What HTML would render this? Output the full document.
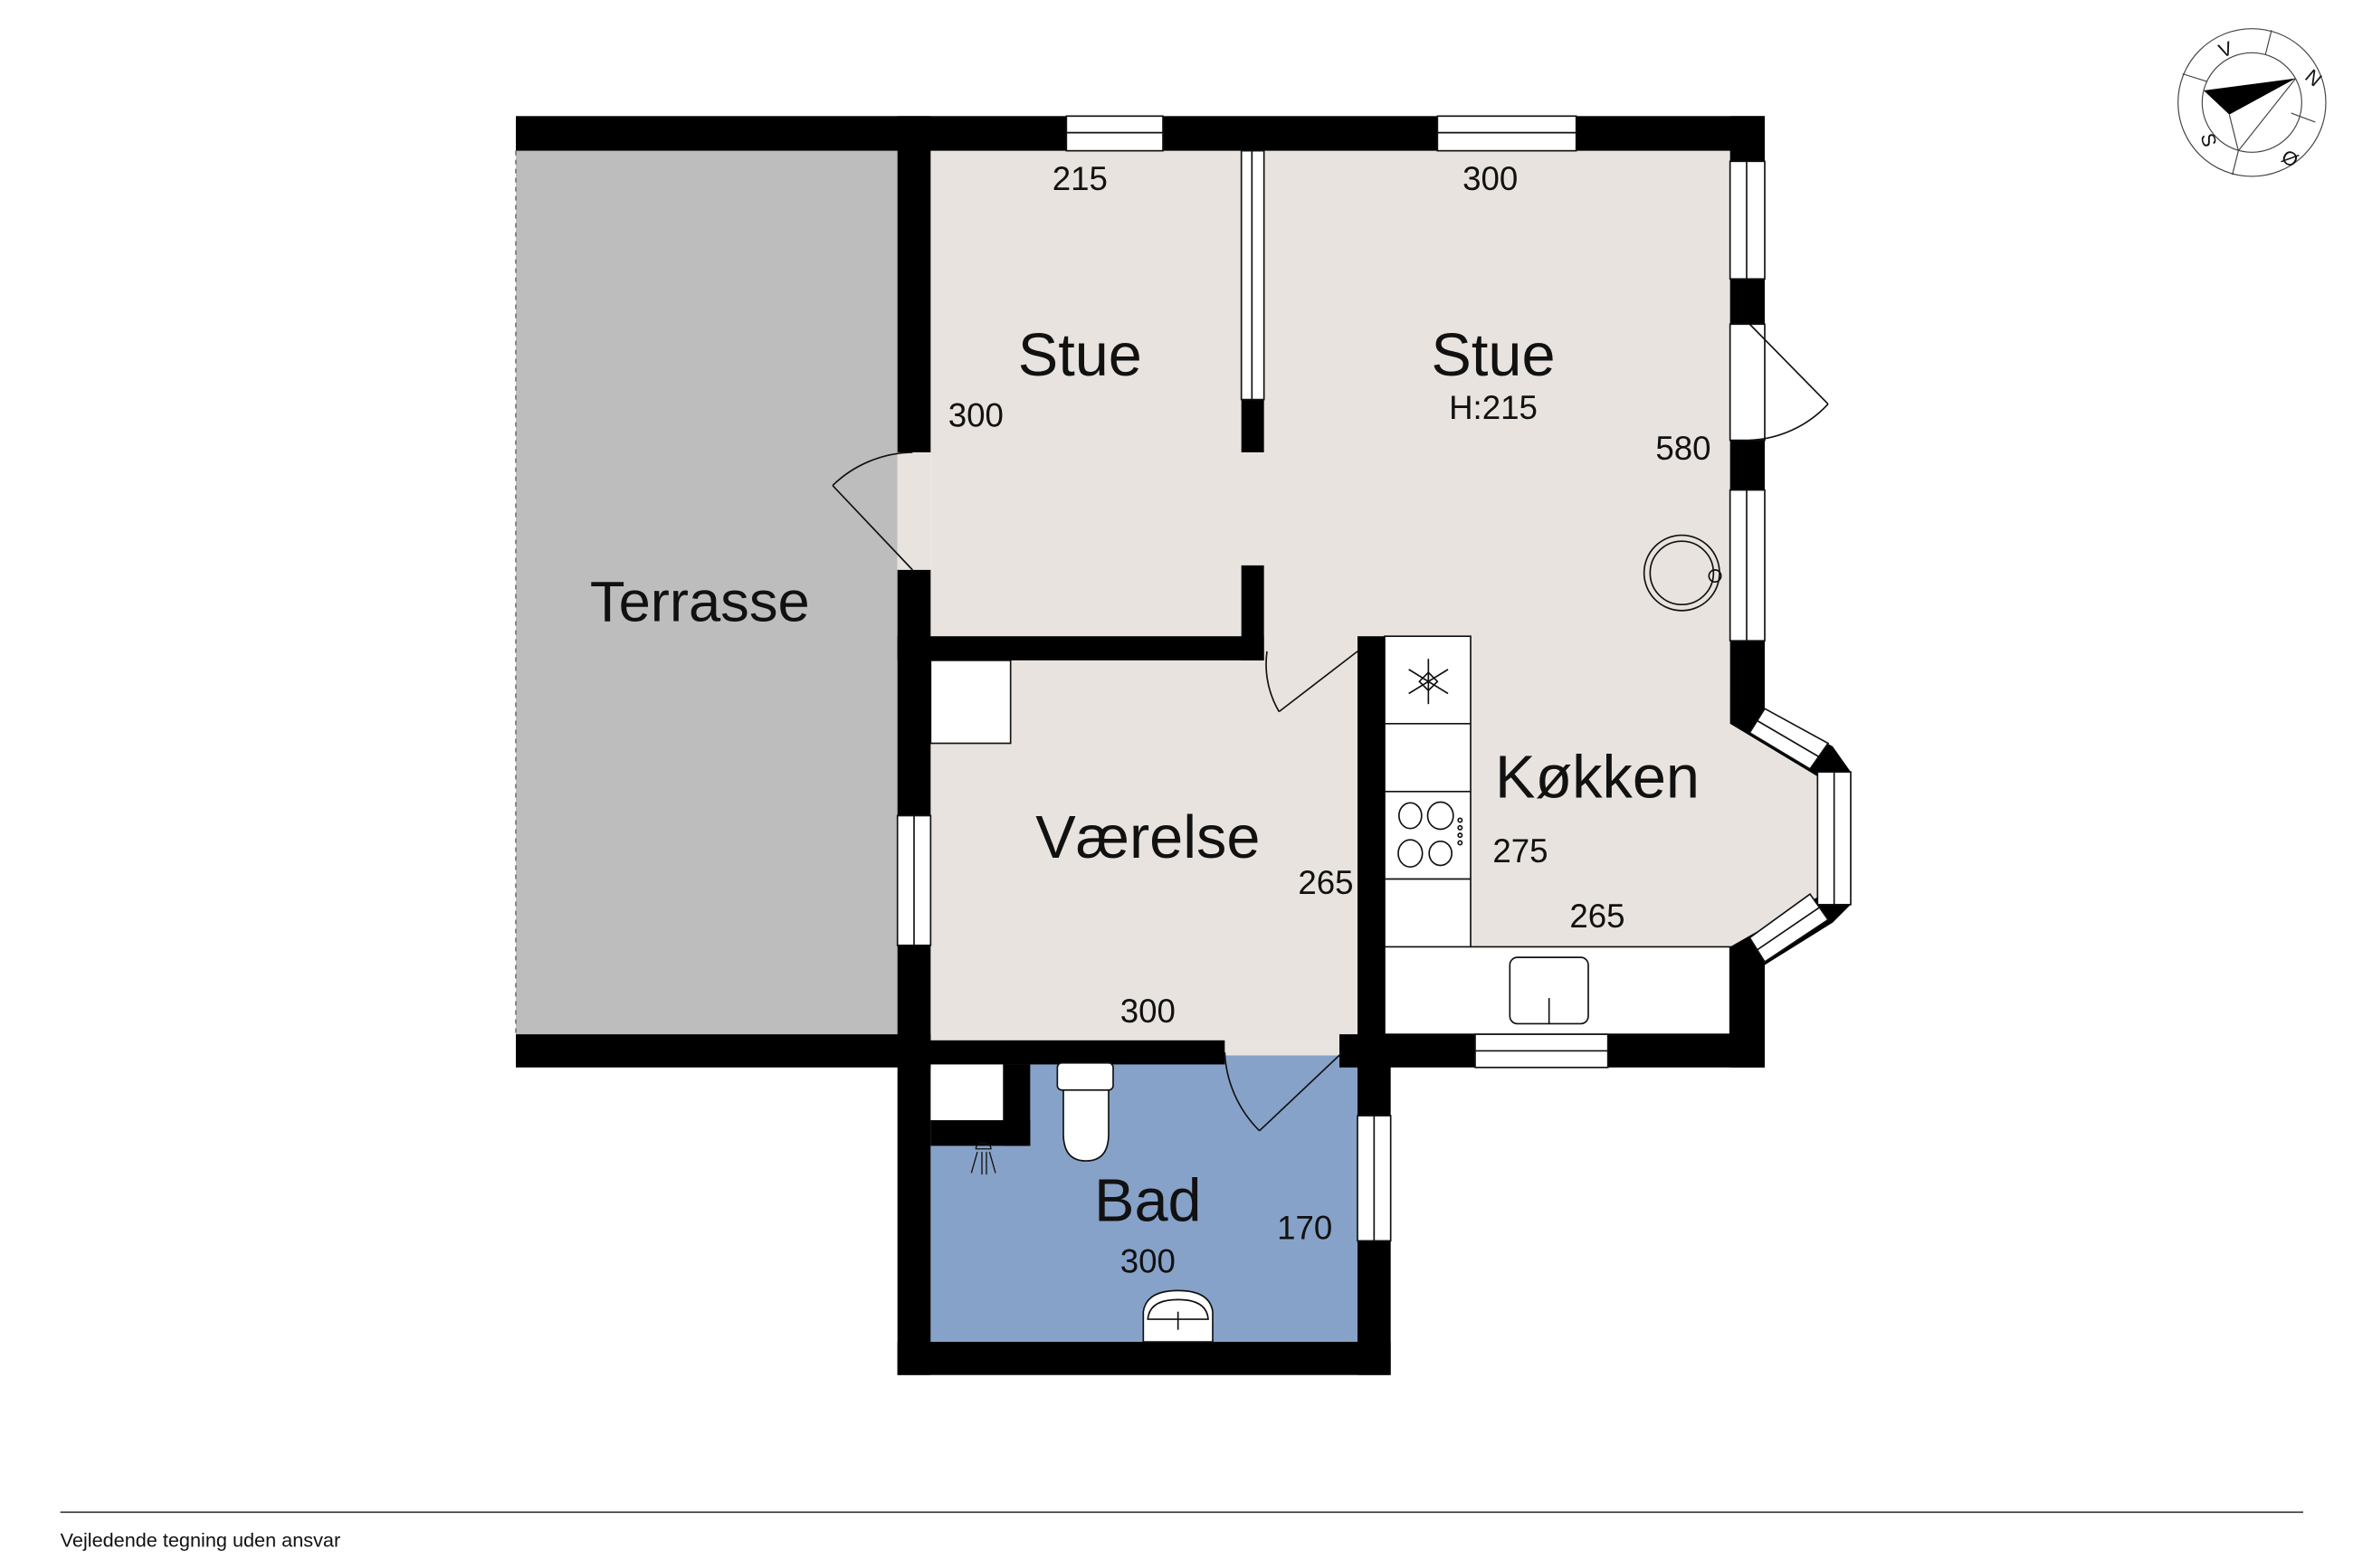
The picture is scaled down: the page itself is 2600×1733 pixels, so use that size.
<!DOCTYPE html>
<html><head><meta charset="utf-8"><style>
html,body{margin:0;padding:0;background:#fff;}
svg{display:block;}
text{font-family:"Liberation Sans",sans-serif;fill:#111;}
</style></head><body>
<svg width="2600" height="1733" viewBox="0 0 1560 1040" preserveAspectRatio="none" xmlns="http://www.w3.org/2000/svg">
<rect width="1560" height="1040" fill="#fff"/>
<!-- floors -->
<rect x="342" y="100" width="253" height="586" fill="#bdbdbd"/>
<line x1="342" y1="100" x2="342" y2="686" stroke="#777" stroke-dasharray="3,3" stroke-width="1"/>
<polygon points="617,100 1147,100 1147,460 1170,483 1215,512 1215,600 1170,628 975,628 975,422 617,422" fill="#e8e3de"/>
<rect x="595" y="300" width="22" height="78" fill="#e8e3de"/>
<rect x="838" y="420" width="62" height="20" fill="#e8e3de"/>
<rect x="617" y="438" width="283" height="252" fill="#e8e3de"/>
<rect x="617" y="700" width="283" height="190" fill="#87a2c8"/>
<rect x="812" y="690" width="78" height="10" fill="#e8e3de"/>
<!-- counters -->
<rect x="918" y="422" width="57" height="264" fill="#fff" stroke="#111" stroke-width="1"/>
<rect x="918" y="628" width="229" height="58" fill="#fff" stroke="#111" stroke-width="1"/>
<line x1="918" y1="480" x2="975" y2="480" stroke="#111"/>
<line x1="918" y1="525" x2="975" y2="525" stroke="#111"/>
<line x1="918" y1="583" x2="975" y2="583" stroke="#111"/>
<rect x="1001" y="635" width="52" height="44" rx="5" fill="#fff" stroke="#111"/>
<line x1="1027" y1="662" x2="1027" y2="679" stroke="#111"/>
<g fill="none" stroke="#111" stroke-width="1">
<ellipse cx="935" cy="541" rx="7.5" ry="8.5"/><ellipse cx="955" cy="541" rx="8.5" ry="9"/>
<ellipse cx="935" cy="566" rx="8" ry="9"/><ellipse cx="955" cy="566" rx="7.5" ry="8"/>
<circle cx="968" cy="544" r="1.3"/><circle cx="968" cy="549" r="1.3"/><circle cx="968" cy="554" r="1.3"/><circle cx="968" cy="559" r="1.3"/>
<line x1="947" y1="437" x2="947" y2="467"/><line x1="934" y1="444" x2="960" y2="460"/><line x1="934" y1="460" x2="960" y2="444"/>
<polygon points="947,446 953,452 947,458 941,452"/>
<circle cx="1115" cy="380" r="25"/><circle cx="1115" cy="380" r="21"/>
<circle cx="1137" cy="382" r="4"/>
</g>
<!-- closets -->
<rect x="617" y="438" width="53" height="55" fill="#fff" stroke="#111" stroke-width="1"/>
<rect x="617" y="690" width="48" height="53" fill="#fff"/>
<!-- walls -->
<g fill="#000">
<rect x="342" y="77" width="828" height="23"/>
<rect x="342" y="686" width="275" height="22"/>
<rect x="595" y="77" width="22" height="223"/>
<rect x="595" y="378" width="22" height="534"/>
<rect x="823" y="100" width="15" height="200"/>
<rect x="823" y="375" width="15" height="63"/>
<rect x="595" y="422" width="243" height="16"/>
<rect x="900" y="422" width="18" height="286"/>
<rect x="595" y="690" width="217" height="16"/>
<rect x="888" y="686" width="282" height="22"/>
<rect x="665" y="706" width="18" height="54"/>
<rect x="617" y="743" width="66" height="17"/>
<rect x="900" y="700" width="22" height="212"/>
<rect x="595" y="890" width="327" height="22"/>
<rect x="1147" y="77" width="23" height="383"/>
<polygon points="1147,460 1170,460 1170,470 1215,495 1227,512 1227,600 1215,612 1170,640 1170,708 1147,708 1147,628 1205,595 1205,515 1147,480"/>
</g>
<!-- windows -->
<g fill="#fff" stroke="#111" stroke-width="1">
<rect x="707" y="77" width="64" height="23"/><line x1="707" y1="88" x2="771" y2="88"/>
<rect x="953" y="77" width="92" height="23"/><line x1="953" y1="88" x2="1045" y2="88"/>
<rect x="823" y="100" width="15" height="165"/><line x1="830" y1="100" x2="830" y2="265"/>
<rect x="1147" y="107" width="23" height="78"/><line x1="1158" y1="107" x2="1158" y2="185"/>
<rect x="1147" y="215" width="23" height="77"/>
<rect x="1147" y="325" width="23" height="100"/><line x1="1158" y1="325" x2="1158" y2="425"/>
<rect x="595" y="541" width="22" height="86"/><line x1="606" y1="541" x2="606" y2="627"/>
<rect x="978" y="686" width="88" height="22"/><line x1="978" y1="697" x2="1066" y2="697"/>
<rect x="900" y="740" width="22" height="83"/><line x1="911" y1="740" x2="911" y2="823"/>
<rect x="1205" y="512" width="22" height="88"/><line x1="1216" y1="512" x2="1216" y2="600"/>
<polygon points="1170,470 1160,486 1200,510 1212,493"/><line x1="1165" y1="478" x2="1206" y2="502"/>
<polygon points="1160,622 1170,638 1212,610 1200,593"/><line x1="1165" y1="630" x2="1206" y2="602"/>
</g>
<!-- doors -->
<g fill="none" stroke="#111" stroke-width="1">
<line x1="605" y1="378" x2="552" y2="322"/><path d="M552,322 A78,78 0 0 1 605,300"/>
<line x1="1160" y1="215" x2="1212" y2="268"/><path d="M1212,268 A75,75 0 0 1 1160,292"/>
<line x1="900" y1="432" x2="848" y2="472"/><path d="M848,472 A62,62 0 0 1 840,432"/>
<line x1="890" y1="698" x2="835" y2="750"/><path d="M835,750 A78,78 0 0 1 812,698"/>
</g>
<!-- toilet, sink, shower -->
<g fill="#fff" stroke="#111" stroke-width="1">
<path d="M705,718 L705,752 Q705,770 720,770 Q735,770 735,752 L735,718 Z"/>
<rect x="701" y="705" width="37" height="18" rx="3"/>
<path d="M758,890 L758,870 Q760,856 781,856 Q802,856 804,870 L804,890 Z"/>
<path d="M761,875 Q762,862 781,862 Q800,862 801,875 Z"/>
</g>
<line x1="781" y1="870" x2="781" y2="882" stroke="#111"/>
<g stroke="#111" stroke-width="0.8" fill="none"><path d="M647,762 A5,4 0 0 1 657,762 Z"/><line x1="648" y1="764" x2="644" y2="778"/><line x1="651" y1="764" x2="651" y2="779"/><line x1="654" y1="764" x2="654" y2="779"/><line x1="656" y1="764" x2="660" y2="778"/></g>
<!-- labels -->
<g text-anchor="middle">
<text x="716" y="249" font-size="40">Stue</text>
<text x="990" y="249" font-size="40">Stue</text>
<text x="990" y="278" font-size="22">H:215</text>
<text x="464" y="412" font-size="38">Terrasse</text>
<text x="761" y="569" font-size="40">Værelse</text>
<text x="1059" y="529" font-size="40">Køkken</text>
<text x="761" y="810" font-size="40">Bad</text>
<text x="716" y="126" font-size="22">215</text>
<text x="988" y="126" font-size="22">300</text>
<text x="647" y="283" font-size="22">300</text>
<text x="1116" y="305" font-size="22">580</text>
<text x="1008" y="572" font-size="22">275</text>
<text x="1059" y="615" font-size="22">265</text>
<text x="879" y="593" font-size="22">265</text>
<text x="761" y="678" font-size="22">300</text>
<text x="761" y="844" font-size="22">300</text>
<text x="865" y="822" font-size="22">170</text>
</g>
<line x1="40" y1="1003" x2="1527" y2="1003" stroke="#333" stroke-width="1"/>
<text x="40" y="1026" font-size="13">Vejledende tegning uden ansvar</text>
<!-- compass -->
<g stroke="#444" stroke-width="0.7" fill="none">
<circle cx="1493" cy="68" r="49"/><circle cx="1493" cy="68" r="33"/>
<line x1="1506" y1="20" x2="1502" y2="36"/>
<line x1="1447" y1="49" x2="1463" y2="54"/>
<line x1="1519" y1="75" x2="1535" y2="81"/>
<line x1="1484" y1="100" x2="1480" y2="116"/>
<line x1="1522" y1="52" x2="1484" y2="100"/>
<line x1="1478" y1="76" x2="1484" y2="100"/>
</g>
<polygon points="1522,52 1461,60 1478,76" fill="#000"/>
<g font-size="13" text-anchor="middle">
<text x="1477" y="37" transform="rotate(-20 1477 37)">V</text>
<text x="1531" y="55" transform="rotate(40 1531 55)">N</text>
<text x="1516" y="109" transform="rotate(30 1516 109)">Ø</text>
<text x="1460" y="94" transform="rotate(75 1460 94)">S</text>
</g>
</svg>
</body></html>
